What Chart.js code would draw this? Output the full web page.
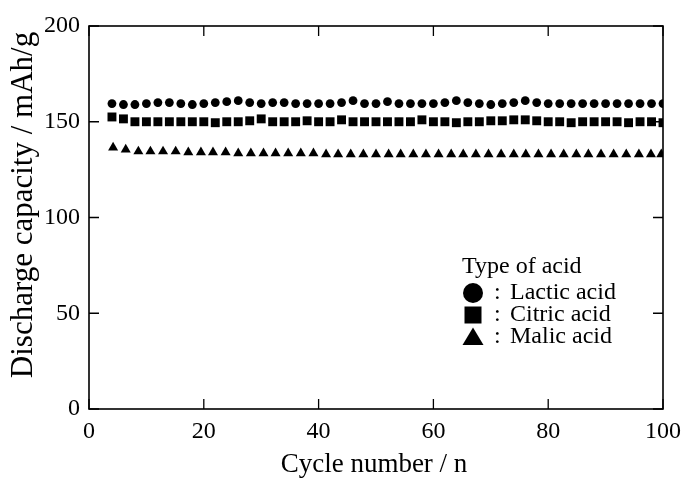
<!DOCTYPE html>
<html>
<head>
<meta charset="utf-8">
<script src="https://cdn.jsdelivr.net/npm/chart.js@4.4.1/dist/chart.umd.min.js"></script>
<style>
html,body{margin:0;padding:0;background:#fff;}
#wrap{width:683px;height:479px;position:relative;}
</style>
</head>
<body>
<div id="wrap"><canvas id="c" width="683" height="479"></canvas></div>
<script>
// ---- data ----
const cycles2 = [4,6,8,10,12,14,16,18,20,22,24,26,28,30,32,34,36,38,40,42,44,46,48,50,52,54,56,58,60,62,64,66,68,70,72,74,76,78,80,82,84,86,88,90,92,94,96,98,100];
const lacticCapacity = [159.5,159,159,159.5,160,160,159.5,159,159.5,160,160.5,161,160,159.5,160,160,159.5,159.5,159.5,159.5,160,161,159.5,159.5,160.5,159.5,159.5,159.5,159.5,160,161,160,159.5,159,159.5,160,161,160,159.5,159.5,159.5,159.5,159.5,159.5,159.5,159.5,159.5,159.5,159.5];
const citricCapacity = [152.5,151.5,150,150,150,150,150,150,150,149.5,150,150,150.5,151.5,150,150,150,150.5,150,150,151,150,150,150,150,150,150,151,150,150,149.5,150,150,150.5,150.5,151,151,150.5,150,150,149.5,150,150,150,150,149.5,150,150,149.5];
const malicCycles = [4.2,6.4,8.6,10.7,12.9,15.1,17.3,19.5,21.6,23.8,26.0,28.2,30.4,32.5,34.7,36.9,39.1,41.3,43.4,45.6,47.8,50.0,52.2,54.3,56.5,58.7,60.9,63.1,65.2,67.4,69.6,71.8,74.0,76.1,78.3,80.5,82.7,84.9,87.0,89.2,91.4,93.6,95.8,97.9,99.7];
const malicCapacity = [136.5,135.5,134.5,134.5,134.5,134.5,134,134,134,134,133.5,133.5,133.5,133.5,133.5,133.5,133.5,133,133,133,133,133,133,133,133,133,133,133,133,133,133,133,133,133,133,133,133,133,133,133,133,133,133,133,133];
const seriesNames = ['Lactic acid','Citric acid','Malic acid'];
const legendTitle = 'Type of acid';
const xTitle = 'Cycle number / n';
const yTitle = 'Discharge capacity / mAh/g';
const xTicks = [0,20,40,60,80,100];
const yTicks = [0,50,100,150,200];

const FONT = '"Liberation Serif","DejaVu Serif",serif';
const pts = (xs, ys) => xs.map((x,i)=>({x:x, y:ys[i]}));

function drawText(ctx, text, x, y, size, rot, align){
  ctx.save();
  ctx.font = size+'px '+FONT;
  ctx.textBaseline='middle';
  ctx.textAlign=align||'center';
  ctx.translate(x,y);
  if(rot) ctx.rotate(rot);
  ctx.fillText(text,0,0);
  ctx.restore();
}

const frame = {
  id:'frame',
  afterDraw(chart){
    const {ctx, chartArea:a, scales:{x,y}} = chart;
    ctx.save();
    ctx.strokeStyle='#000'; ctx.lineWidth=1.6;
    ctx.strokeRect(a.left, a.top, a.right-a.left, a.bottom-a.top);
    const L=10;
    ctx.lineWidth=1.3;
    ctx.beginPath();
    x.ticks.forEach(t=>{const px=x.getPixelForValue(t.value);
      ctx.moveTo(px,a.bottom); ctx.lineTo(px,a.bottom-L);
      ctx.moveTo(px,a.top); ctx.lineTo(px,a.top+L);});
    y.ticks.forEach(t=>{const py=y.getPixelForValue(t.value);
      ctx.moveTo(a.left,py); ctx.lineTo(a.left+L,py);
      ctx.moveTo(a.right,py); ctx.lineTo(a.right-L,py);});
    ctx.stroke();
    ctx.fillStyle='#000';
    // tick labels from the library's scales
    x.ticks.forEach(t=>drawText(ctx, String(t.value), x.getPixelForValue(t.value), a.bottom+23, 24, 0, 'center'));
    y.ticks.forEach(t=>drawText(ctx, String(t.value), a.left-9, y.getPixelForValue(t.value), 24, 0, 'right'));
    // axis titles
    drawText(ctx, xTitle, 374, 465, 27, 0);
    drawText(ctx, yTitle, 24, 205, 31, -Math.PI/2);
    // legend
    drawText(ctx, legendTitle, 462, 267, 24, 0, 'left');
    const rows=[293,315,337];
    chart.data.datasets.forEach((ds,i)=>{
      const cy=rows[i], cx=473;
      ctx.beginPath();
      if(ds.pointStyle==='circle'){ctx.arc(cx,cy,10,0,Math.PI*2);}
      else if(ds.pointStyle==='rect'){ctx.rect(cx-8.5,cy-8.5,17,17);}
      else {ctx.moveTo(cx,cy-9.5);ctx.lineTo(cx+10.5,cy+8);ctx.lineTo(cx-10.5,cy+8);ctx.closePath();}
      ctx.fill();
      drawText(ctx, ':', 494, cy, 24, 0, 'left');
      drawText(ctx, ds.label, 510, cy, 24, 0, 'left');
    });
    ctx.restore();
  }
};

new Chart(document.getElementById('c'), {
  type:'scatter',
  data:{datasets:[
    {label:seriesNames[0], data:pts(cycles2,lacticCapacity), pointStyle:'circle', pointRadius:4.4, backgroundColor:'#000', borderColor:'#000', borderWidth:0},
    {label:seriesNames[1], data:pts(cycles2,citricCapacity), pointStyle:'rect', pointRadius:6.3, backgroundColor:'#000', borderColor:'#000', borderWidth:0},
    {label:seriesNames[2], data:pts(malicCycles,malicCapacity), pointStyle:'triangle', pointRadius:5.8, backgroundColor:'#000', borderColor:'#000', borderWidth:0}
  ]},
  options:{
    responsive:false, animation:false,
    layout:{padding:{top:26,right:20,left:0,bottom:0}},
    plugins:{legend:{display:false}, tooltip:{enabled:false}},
    scales:{
      x:{type:'linear', min:0, max:100,
         afterBuildTicks(s){s.ticks=xTicks.map(v=>({value:v}));},
         afterFit(s){s.height=70;},
         grid:{display:false, drawTicks:false}, border:{display:false},
         ticks:{display:false},
         title:{display:false, text:xTitle}},
      y:{type:'linear', min:0, max:200,
         afterBuildTicks(s){s.ticks=yTicks.map(v=>({value:v}));},
         afterFit(s){s.width=89;},
         grid:{display:false, drawTicks:false}, border:{display:false},
         ticks:{display:false},
         title:{display:false, text:yTitle}}
    }
  },
  plugins:[frame]
});
</script>
</body>
</html>
